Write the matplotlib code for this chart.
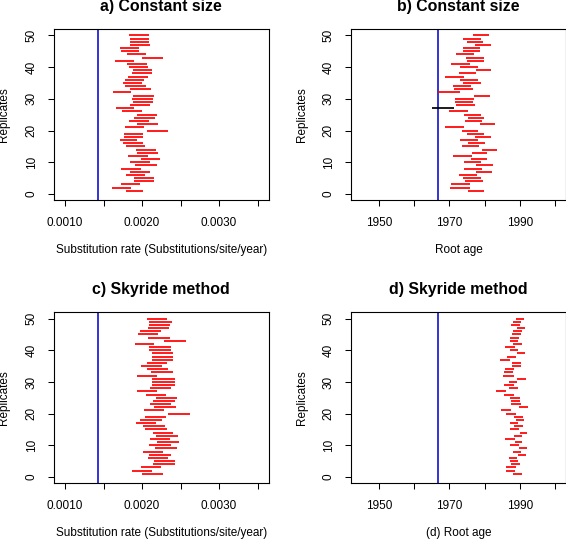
import matplotlib
matplotlib.use("Agg")
import matplotlib.pyplot as plt

plt.rcParams['font.family'] = ['Liberation Sans', 'DejaVu Sans']
plt.rcParams['font.size'] = 8.5

# replicate index 1..50
reps = list(range(1, 51))

# a) constant size, substitution rate intervals
rate_cs_lo = [0.001787, 0.001611, 0.001731, 0.001898, 0.001898, 0.001796, 0.001838, 0.001731, 0.001907, 0.001838,
              0.001984, 0.001817, 0.001941, 0.001920, 0.001796, 0.001753, 0.001710, 0.001761, 0.001770, 0.002070,
              0.001774, 0.001941, 0.001830, 0.001898, 0.001941, 0.001736, 0.001663, 0.001838, 0.001886, 0.001868,
              0.001877, 0.001629, 0.001847, 0.001778, 0.001748, 0.001778, 0.001821, 0.001868, 0.001877, 0.001830,
              0.001804, 0.001646, 0.002001, 0.001800, 0.001731, 0.001714, 0.001838, 0.001843, 0.001843, 0.001834]
rate_cs_hi = [0.002018, 0.001856, 0.001971, 0.002156, 0.002156, 0.002044, 0.002108, 0.001993, 0.002194, 0.002100,
              0.002233, 0.002078, 0.002207, 0.002181, 0.002040, 0.002014, 0.001941, 0.002014, 0.002014, 0.002336,
              0.002023, 0.002203, 0.002087, 0.002164, 0.002194, 0.002001, 0.001898, 0.002100, 0.002138, 0.002138,
              0.002151, 0.001860, 0.002113, 0.002053, 0.001997, 0.002031, 0.002078, 0.002130, 0.002130, 0.002078,
              0.002061, 0.001894, 0.002271, 0.002048, 0.001963, 0.001958, 0.002104, 0.002096, 0.002096, 0.002087]

# b) constant size, root age intervals
age_cs_lo = [1975.2, 1970.3, 1970.4, 1974.5, 1973.9, 1972.8, 1977.6, 1974.3, 1977.6, 1974.2,
             1976.2, 1970.9, 1976.5, 1979.4, 1973.6, 1975.2, 1973.1, 1977.4, 1974.9, 1973.5,
             1968.7, 1978.7, 1974.5, 1975.2, 1974.2, 1969.8, 1965.2, 1972.0, 1971.7, 1971.7,
             1976.9, 1966.9, 1971.4, 1970.9, 1974.0, 1973.1, 1968.7, 1972.8, 1977.6, 1972.9,
             1970.6, 1975.0, 1974.7, 1971.8, 1973.9, 1974.0, 1977.4, 1975.0, 1974.0, 1976.6]
age_cs_hi = [1979.9, 1975.8, 1976.0, 1979.5, 1978.9, 1977.9, 1982.0, 1979.3, 1982.3, 1979.0,
             1980.6, 1976.3, 1980.8, 1983.4, 1978.4, 1980.0, 1978.2, 1981.8, 1979.7, 1978.2,
             1974.2, 1983.0, 1979.3, 1979.8, 1978.9, 1975.3, 1971.3, 1977.2, 1976.7, 1977.0,
             1981.4, 1973.0, 1976.8, 1976.2, 1978.9, 1978.2, 1974.3, 1977.7, 1981.8, 1978.0,
             1976.0, 1979.7, 1979.9, 1977.1, 1978.7, 1978.8, 1981.8, 1979.5, 1978.9, 1981.2]

# c) skyride, substitution rate intervals
rate_sr_lo = [0.002004, 0.001874, 0.001987, 0.002143, 0.002157, 0.002074, 0.002091, 0.002017, 0.002170, 0.002087,
              0.002200, 0.002104, 0.002178, 0.002139, 0.002043, 0.002017, 0.001922, 0.001970, 0.002035, 0.002339,
              0.002026, 0.002157, 0.002100, 0.002139, 0.002178, 0.002048, 0.001935, 0.002104, 0.002130, 0.002130,
              0.002135, 0.001930, 0.002117, 0.002065, 0.001983, 0.002065, 0.002126, 0.002126, 0.002126, 0.002096,
              0.002096, 0.001909, 0.002291, 0.002083, 0.001943, 0.001978, 0.002083, 0.002091, 0.002091, 0.002065]
rate_sr_hi = [0.002270, 0.002130, 0.002243, 0.002422, 0.002426, 0.002343, 0.002374, 0.002278, 0.002457, 0.002378,
              0.002483, 0.002361, 0.002465, 0.002400, 0.002326, 0.002300, 0.002178, 0.002257, 0.002309, 0.002626,
              0.002291, 0.002439, 0.002378, 0.002430, 0.002452, 0.002313, 0.002196, 0.002374, 0.002422, 0.002422,
              0.002430, 0.002196, 0.002400, 0.002335, 0.002257, 0.002326, 0.002396, 0.002404, 0.002400, 0.002370,
              0.002370, 0.002157, 0.002570, 0.002357, 0.002204, 0.002243, 0.002352, 0.002365, 0.002387, 0.002322]

# d) skyride, root age intervals
age_sr_lo = [1988.1, 1986.2, 1986.2, 1987.6, 1987.1, 1986.8, 1989.5, 1988.0, 1989.7, 1987.3,
             1988.5, 1985.8, 1988.2, 1989.9, 1987.1, 1988.4, 1987.3, 1989.0, 1988.4, 1986.2,
             1984.7, 1989.7, 1987.6, 1987.6, 1987.3, 1985.5, 1983.1, 1986.8, 1985.5, 1987.0,
             1989.3, 1985.3, 1985.6, 1985.7, 1987.7, 1987.7, 1984.4, 1986.4, 1989.2, 1987.1,
             1985.8, 1988.0, 1987.1, 1987.2, 1987.8, 1988.0, 1989.1, 1987.6, 1988.0, 1988.9]
age_sr_hi = [1990.6, 1988.6, 1988.8, 1990.1, 1989.4, 1989.2, 1991.7, 1990.3, 1992.1, 1989.8,
             1990.7, 1988.5, 1990.7, 1992.1, 1989.7, 1990.8, 1989.6, 1991.2, 1990.8, 1989.0,
             1987.6, 1992.3, 1990.3, 1990.0, 1989.9, 1988.3, 1986.0, 1989.4, 1988.3, 1989.3,
             1991.7, 1988.2, 1988.1, 1988.4, 1990.2, 1990.2, 1987.1, 1988.9, 1991.4, 1989.6,
             1988.5, 1990.6, 1989.6, 1989.8, 1990.3, 1990.6, 1991.4, 1990.1, 1990.4, 1991.1]

true_rate = 0.001425
true_age = 1966.7
outlier_rep = 27  # interval drawn in black in panel b

rate_ticks = [0.0010, 0.0015, 0.0020, 0.0025, 0.0030, 0.0035]
rate_labels = ['0.0010', '', '0.0020', '', '0.0030', '']
age_ticks = [1950, 1960, 1970, 1980, 1990, 2000]
age_labels = ['1950', '', '1970', '', '1990', '']
rep_ticks = [0, 10, 20, 30, 40, 50]

W, H = 566, 541
fig = plt.figure(figsize=(W / 100, H / 100), dpi=100)


def make_axes(left, top, right, bottom):
    return fig.add_axes([left / W, 1 - bottom / H, (right - left) / W, (bottom - top) / H])


def style(ax, title, xlabel, ticks, labels, xlim, w, h):
    ax.set_xlim(*xlim)
    ax.set_ylim(-2, 52)
    ax.set_xticks(ticks)
    ax.set_xticklabels(labels)
    ax.set_yticks(rep_ticks)
    ax.tick_params(direction='out', length=4.3, width=0.75, pad=7.5)
    plt.setp(ax.get_yticklabels(), rotation=90, va='center')
    for s in ax.spines.values():
        s.set_linewidth(0.8)
    ax.set_title(title, fontsize=11.4, fontweight='bold', pad=13)
    ax.set_xlabel(xlabel, va='center')
    ax.xaxis.set_label_coords(0.5, -50 / h)
    ax.set_ylabel('Replicates', va='center')
    ax.yaxis.set_label_coords(-49.5 / w, 0.5)


ax_a = make_axes(54, 29, 268.7, 200.3)
ax_b = make_axes(351.3, 29, 565.7, 200.3)
ax_c = make_axes(54, 312.3, 268.7, 483.3)
ax_d = make_axes(351.3, 312.3, 565.7, 483.3)

rate_lim = (0.000857, 0.003645)
age_lim = (1942.2, 2003.0)

ax_a.axvline(true_rate, color='#1010d0', lw=1.2)
ax_a.hlines(reps, rate_cs_lo, rate_cs_hi, colors='red', lw=1.25)
style(ax_a, 'a) Constant size', 'Substitution rate (Substitutions/site/year)',
      rate_ticks, rate_labels, rate_lim, 214.7, 171.3)

colors_b = ['black' if r == outlier_rep else 'red' for r in reps]
ax_b.axvline(true_age, color='#1010d0', lw=1.2)
ax_b.hlines(reps, age_cs_lo, age_cs_hi, colors=colors_b, lw=1.25)
style(ax_b, 'b) Constant size', 'Root age', age_ticks, age_labels, age_lim, 214.4, 171.3)

ax_c.axvline(true_rate, color='#1010d0', lw=1.2)
ax_c.hlines(reps, rate_sr_lo, rate_sr_hi, colors='red', lw=1.25)
style(ax_c, 'c) Skyride method', 'Substitution rate (Substitutions/site/year)',
      rate_ticks, rate_labels, rate_lim, 214.7, 171.0)

ax_d.axvline(true_age, color='#1010d0', lw=1.2)
ax_d.hlines(reps, age_sr_lo, age_sr_hi, colors='red', lw=1.25)
style(ax_d, 'd) Skyride method', '(d) Root age', age_ticks, age_labels, age_lim, 214.4, 171.0)

fig.savefig('out.png', dpi=100)
